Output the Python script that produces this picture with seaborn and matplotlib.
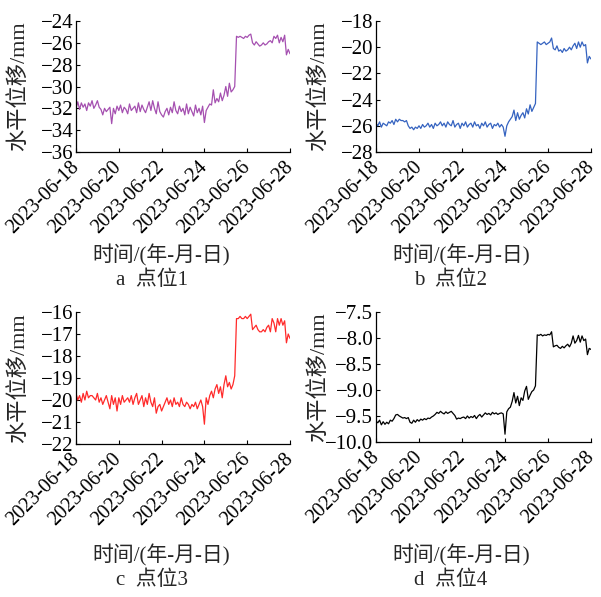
import numpy as np
import pandas as pd
import matplotlib
matplotlib.use("Agg")
import matplotlib.pyplot as plt
import seaborn as sns

start_date = "2023-06-18"
end_date = "2023-06-28"
tick_labels = ["2023-06-18", "2023-06-20", "2023-06-22", "2023-06-24", "2023-06-26", "2023-06-28"]

p1 = [-32.0, -31.4, -32.1, -31.5, -31.9, -31.6, -32.2, -31.5, -31.8, -31.3, -32.0, -31.7,
      -31.3, -31.9, -32.1, -32.6, -32.0, -32.3, -32.1, -31.9, -33.4, -32.0, -32.5, -31.8,
      -32.2, -31.7, -32.4, -31.9, -32.1, -32.5, -31.6, -32.2, -32.0, -31.8, -32.4, -31.5,
      -32.3, -31.7, -32.1, -32.4, -31.9, -31.4, -32.2, -31.3, -32.0, -32.5, -31.4, -32.3,
      -32.6, -32.8, -32.3, -32.0, -32.6, -31.9, -32.4, -31.4, -32.2, -32.5, -31.8, -32.3,
      -32.0, -32.6, -31.6, -32.5, -31.9, -32.3, -32.7, -31.7, -32.4, -32.0, -32.6, -31.8,
      -33.3,
      -32.2, -31.9, -31.6, -31.7, -30.3, -31.5, -31.1, -31.4, -30.6, -31.3, -30.8, -30.0,
      -30.9, -29.7, -30.5, -30.3, -30.0,
      -25.4, -25.5, -25.4, -25.5, -25.6, -25.4, -25.5, -25.3, -25.2, -26.0, -26.2, -25.9,
      -26.1, -26.3, -26.2, -26.0, -26.2, -26.1, -25.9, -25.8, -26.0, -25.4, -25.6, -25.3,
      -26.0, -25.5, -25.9, -25.3, -27.1, -26.6, -27.0]

p2 = [-25.8, -26.0, -25.7, -26.1, -25.8, -25.9, -26.0, -25.7, -25.8, -25.6, -25.9, -25.5,
      -25.7, -25.5, -25.6, -25.6, -25.7, -25.6, -26.0, -26.2, -26.1, -26.3, -26.1, -26.2,
      -26.0, -26.2, -25.9, -26.1, -26.0, -25.8, -26.1, -25.9, -26.2, -25.8, -26.0, -25.9,
      -25.7, -26.0, -25.8, -26.1, -25.7, -25.9, -26.0, -25.6, -26.1, -25.9, -25.8, -26.2,
      -25.8, -26.0, -25.7, -26.1, -25.9, -25.8, -26.1, -25.7, -26.0, -25.9, -26.2, -25.8,
      -26.0, -25.7, -26.1, -25.9, -25.8, -26.2, -25.9, -26.0, -25.8, -26.1, -25.9, -26.1,
      -26.8,
      -26.0, -25.7, -25.5, -25.3, -24.8, -25.6, -25.0, -25.5, -25.2, -25.0, -25.4, -24.7,
      -25.1, -24.4, -24.9, -24.6, -24.3,
      -19.6, -19.7, -19.8, -19.7, -19.6, -19.8, -19.7, -19.6, -19.3, -20.1, -20.2, -19.9,
      -20.3, -20.2, -20.4, -20.1, -20.3, -20.2, -20.0, -20.2, -19.9, -19.7, -20.1, -19.6,
      -20.0, -19.6, -19.9, -19.8, -21.2, -20.7, -20.9]

p3 = [-19.7, -20.0, -19.8, -20.1, -19.7, -20.0, -19.6, -19.9, -19.8, -19.8, -19.9, -20.0,
      -19.7, -20.1, -19.9, -20.2, -20.0, -19.8, -20.1, -20.4, -19.8, -20.2, -19.9, -20.5,
      -19.9, -20.2, -19.8, -20.1, -20.0, -19.9, -20.1, -19.8, -20.2, -19.9, -19.7, -20.2,
      -20.0, -19.8, -20.3, -19.9, -20.2, -19.7, -20.1, -20.3, -19.9, -20.6, -20.3, -20.2,
      -20.5, -20.3, -20.1, -19.9, -20.2, -20.0, -20.3, -19.9, -20.2, -20.1, -20.3, -19.9,
      -20.2, -20.3, -20.1, -20.2, -20.4, -20.2, -20.3, -20.1, -20.4, -20.2, -20.0, -20.3,
      -21.1,
      -19.9, -20.2, -19.8, -19.6, -19.9, -19.5, -19.3, -19.7, -19.4, -19.9, -19.3, -18.9,
      -19.4, -19.2, -19.5, -19.3, -18.9,
      -16.3, -16.3, -16.2, -16.3, -16.3, -16.2, -16.3, -16.2, -16.1, -16.8, -16.7, -16.6,
      -16.8, -16.9, -16.9, -16.8, -16.9, -16.7, -16.6, -16.9, -16.3, -16.5, -16.9, -16.3,
      -16.6, -16.3, -16.6, -16.4, -17.4, -17.0, -17.2]

p4 = [-9.60, -9.63, -9.58, -9.67, -9.61, -9.66, -9.62, -9.65, -9.58, -9.60, -9.55, -9.48,
      -9.47, -9.50, -9.52, -9.54, -9.53, -9.55, -9.53, -9.62, -9.64, -9.58, -9.62, -9.57,
      -9.60, -9.56, -9.58, -9.55, -9.57, -9.54, -9.55, -9.52, -9.50, -9.47, -9.43, -9.45,
      -9.41, -9.44, -9.46, -9.42, -9.45, -9.43, -9.41, -9.45, -9.49, -9.56, -9.54, -9.55,
      -9.53, -9.52, -9.55, -9.50, -9.54, -9.51, -9.53, -9.49, -9.55, -9.50, -9.47, -9.52,
      -9.48, -9.44, -9.47, -9.45, -9.48, -9.43, -9.46, -9.44, -9.47, -9.45, -9.44, -9.46,
      -9.85,
      -9.42, -9.36, -9.33, -9.22, -9.05, -9.25, -9.12, -9.30, -9.15, -9.20, -9.02, -8.93,
      -9.18, -9.10, -9.03, -9.00, -8.92,
      -7.94, -7.95, -7.93, -7.96, -7.94, -7.95, -7.93, -7.94, -7.88, -8.17, -8.15, -8.14,
      -8.18, -8.20, -8.16, -8.19, -8.15, -8.12, -8.17, -8.10, -7.96, -8.10, -8.05, -7.95,
      -8.08, -7.96, -8.05, -8.02, -8.32, -8.20, -8.22]

series = [p1, p2, p3, p4]
titles = ["a  点位1", "b  点位2", "c  点位3", "d  点位4"]
colors = ["#a550b0", "#3563c0", "#ff2a2a", "#000000"]
ylims = [(-36, -24), (-28, -18), (-22, -16), (-10, -7.5)]
yticks = [[-36, -34, -32, -30, -28, -26, -24],
          [-28, -26, -24, -22, -20, -18],
          [-22, -21, -20, -19, -18, -17, -16],
          [-10.0, -9.5, -9.0, -8.5, -8.0, -7.5]]
ytick_fmt = ["{:.0f}", "{:.0f}", "{:.0f}", "{:.1f}"]

sns.set_theme(style="ticks")
plt.rcParams["font.family"] = ["Liberation Serif", "Noto Sans CJK SC"]
plt.rcParams["axes.unicode_minus"] = True
plt.rcParams["xtick.direction"] = "in"
plt.rcParams["ytick.direction"] = "in"

W, H = 601, 597
fig = plt.figure(figsize=(W / 100, H / 100), dpi=100)

# axes rectangles in pixels: left, top, right, bottom
rects = [(76, 21, 290, 152), (376, 21, 591, 152), (76, 312, 290, 444), (376, 312, 591, 442)]
xlabel_y = [255, 255, 555, 555]
title_y = [280, 280, 580, 580]

fs = 14.5
for k in range(4):
    l, t, r, b = rects[k]
    ax = fig.add_axes([l / W, 1 - b / H, (r - l) / W, (b - t) / H])
    vals = series[k]
    dates = pd.date_range(start_date, end_date, periods=len(vals))
    df = pd.DataFrame({"time": dates, "disp": vals})
    sns.lineplot(data=df, x="time", y="disp", ax=ax, color=colors[k], linewidth=0.9)
    ax.set_xlim(pd.Timestamp(start_date), pd.Timestamp(end_date))
    ax.set_ylim(*ylims[k])
    ax.set_yticks(yticks[k])
    ax.set_yticklabels([ytick_fmt[k].format(v).replace("-", "\u2212") for v in yticks[k]], fontsize=15)
    ax.set_xticks(pd.to_datetime(tick_labels))
    ax.set_xticklabels(tick_labels, rotation=45, ha="right", va="center",
                       rotation_mode="anchor", fontsize=fs)
    ax.tick_params(axis="both", length=3, width=0.8, pad=2, colors="black")
    ax.tick_params(axis="x", pad=9)
    sns.despine(ax=ax)
    for s in ["left", "bottom"]:
        ax.spines[s].set_color("black")
        ax.spines[s].set_linewidth(0.9)
    ax.set_ylabel("水平位移/mm", fontsize=16)
    ax.set_xlabel("")
    ax.yaxis.set_label_coords((29 + (0 if k % 2 == 0 else 300) - l) / (r - l), 0.5)
    cx = (161 if k % 2 == 0 else 461)
    fig.text(cx / W, 1 - xlabel_y[k] / H, "时间/(年-月-日)", ha="center", va="center", fontsize=15)
    tx = (152 if k % 2 == 0 else 451)
    fig.text(tx / W, 1 - title_y[k] / H, titles[k], ha="center", va="center", fontsize=15)

fig.savefig("out.png", dpi=100)
